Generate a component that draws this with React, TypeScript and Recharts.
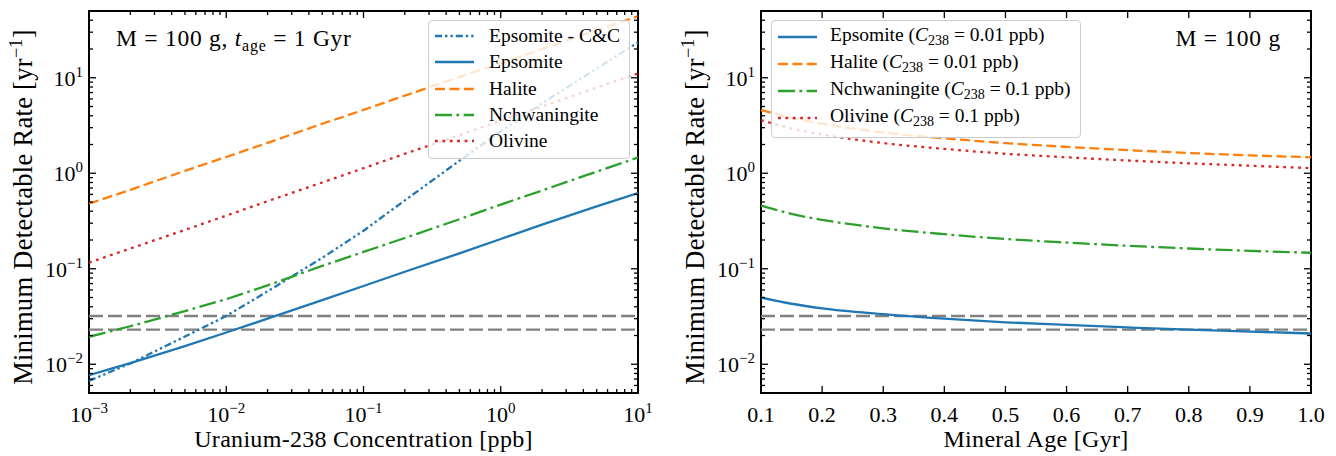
import React from "react";
import { LineChart, Line, XAxis, YAxis, ReferenceLine, ReferenceArea, Legend } from "recharts";

const FONT = '"Liberation Serif", "DejaVu Serif", serif';

// left panel: minimum detectable rate vs U-238 concentration (M = 100 g, t_age = 1 Gyr)
const concentration = [0.001, 0.002, 0.005, 0.01, 0.02, 0.05, 0.1, 0.2, 0.5, 1, 2, 5, 10];
const epsomiteCC = [0.0067, 0.0102, 0.0195, 0.032, 0.058, 0.13, 0.25, 0.52, 1.35, 2.75, 5.4, 12.5, 23.5];
const epsomiteL = [0.0077, 0.0103, 0.0155, 0.0215, 0.03, 0.047, 0.066, 0.093, 0.145, 0.205, 0.29, 0.45, 0.62];
const haliteL = [0.48, 0.67, 1.06, 1.48, 2.08, 3.3, 4.6, 6.5, 10.2, 14.2, 20, 31.5, 44];
const nchwaningiteL = [0.0194, 0.025, 0.036, 0.048, 0.067, 0.107, 0.15, 0.21, 0.33, 0.47, 0.66, 1.04, 1.46];
const olivineL = [0.116, 0.163, 0.255, 0.36, 0.51, 0.8, 1.13, 1.6, 2.5, 3.55, 5.0, 7.9, 11.1];

// right panel: minimum detectable rate vs mineral age (M = 100 g)
const age = [0.1, 0.15, 0.2, 0.3, 0.4, 0.5, 0.6, 0.7, 0.8, 0.9, 1.0];
const epsomiteR = [0.05, 0.043, 0.0385, 0.0335, 0.03, 0.0275, 0.0258, 0.0243, 0.023, 0.022, 0.021];
const haliteR = [4.6, 3.8, 3.3, 2.67, 2.32, 2.07, 1.89, 1.75, 1.63, 1.54, 1.47];
const nchwaningiteR = [0.46, 0.375, 0.325, 0.265, 0.23, 0.205, 0.188, 0.174, 0.163, 0.154, 0.147];
const olivineR = [3.6, 2.94, 2.55, 2.07, 1.8, 1.6, 1.47, 1.36, 1.27, 1.2, 1.13];

// horizontal grey dashed levels
const levels = [0.032, 0.023];

// ticks
const decadesX = [0.001, 0.01, 0.1, 1];
const decadesY = [0.001, 0.01, 0.1, 1, 10];
const minorMult = [1, 2, 3, 4, 5, 6, 7, 8, 9];
const xTicksLeft = [...decadesX.flatMap((d) => minorMult.map((m) => +(d * m).toPrecision(3))), 10];
const yTicks = decadesY.flatMap((d) => minorMult.map((m) => +(d * m).toPrecision(3))).filter((v) => v > 0.005 && v < 50);
const xTicksRight = [0.1, 0.2, 0.3, 0.4, 0.5, 0.6, 0.7, 0.8, 0.9, 1.0];

const leftData = concentration.map((x, i) => ({
  x,
  epsomiteCC: epsomiteCC[i],
  epsomite: epsomiteL[i],
  halite: haliteL[i],
  nchwaningite: nchwaningiteL[i],
  olivine: olivineL[i],
}));

const rightData = age.map((x, i) => ({
  x,
  epsomite: epsomiteR[i],
  halite: haliteR[i],
  nchwaningite: nchwaningiteR[i],
  olivine: olivineR[i],
}));

const BLUE = "#1f77b4";
const ORANGE = "#ff7f0e";
const GREEN = "#2ca02c";
const RED = "#d62728";
const LW = 2.3;

const leftSeries = [
  { key: "epsomiteCC", name: "Epsomite - C&C", color: BLUE, dash: "7 3 2.4 3 2.4 3" },
  { key: "epsomite", name: "Epsomite", color: BLUE, dash: undefined },
  { key: "halite", name: "Halite", color: ORANGE, dash: "10 4.4" },
  { key: "nchwaningite", name: "Nchwaningite", color: GREEN, dash: "17 4.4 2.8 4.4" },
  { key: "olivine", name: "Olivine", color: RED, dash: "2.8 4.6" },
];

const rightSeries = [
  { key: "epsomite", name: "Epsomite", conc: "0.01", color: BLUE, dash: undefined },
  { key: "halite", name: "Halite", conc: "0.01", color: ORANGE, dash: "10 4.4" },
  { key: "nchwaningite", name: "Nchwaningite", conc: "0.1", color: GREEN, dash: "17 4.4 2.8 4.4" },
  { key: "olivine", name: "Olivine", conc: "0.1", color: RED, dash: "2.8 4.6" },
];

const W = 668;
const H = 456;
const XAXIS_H = 30;
const YAXIS_W = 40;
const frameL = { left: 89, right: 638, top: 11, bottom: 393 };
const frameR = { left: 93, right: 643, top: 11, bottom: 393 };

const isDecade = (v: number) => Math.abs(Math.log10(v) - Math.round(Math.log10(v))) < 1e-6;

function pow10(v: number) {
  const e = Math.round(Math.log10(v));
  return (
    <>
      10
      <tspan dy={-9} fontSize={15}>
        {e < 0 ? "\u2212" + -e : String(e)}
      </tspan>
    </>
  );
}

function makeXTick(frame: any, logScale: boolean) {
  return (props: any) => {
    const { x, payload } = props;
    const v = payload.value;
    const major = logScale ? isDecade(v) : true;
    const len = major ? 7 : 4;
    return (
      <g>
        <line x1={x} x2={x} y1={frame.bottom} y2={frame.bottom - len} stroke="#000" strokeWidth={1.3} />
        <line x1={x} x2={x} y1={frame.top} y2={frame.top + len} stroke="#000" strokeWidth={1.3} />
        {major && (
          <text x={x} y={frame.bottom + 29} textAnchor="middle" fontFamily={FONT} fontSize={22} fill="#000">
            {logScale ? pow10(v) : v.toFixed(1)}
          </text>
        )}
      </g>
    );
  };
}

function makeYTick(frame: any) {
  return (props: any) => {
    const { y, payload } = props;
    const v = payload.value;
    const major = isDecade(v);
    const len = major ? 7 : 4;
    return (
      <g>
        <line x1={frame.left} x2={frame.left + len} y1={y} y2={y} stroke="#000" strokeWidth={1.3} />
        <line x1={frame.right} x2={frame.right - len} y1={y} y2={y} stroke="#000" strokeWidth={1.3} />
        {major && (
          <text x={frame.left - 6} y={y + 8} textAnchor="end" fontFamily={FONT} fontSize={22} fill="#000">
            {pow10(v)}
          </text>
        )}
      </g>
    );
  };
}

function Sample({ color, dash }: { color: string; dash?: string }) {
  return (
    <svg width={39} height={10} style={{ display: "block", flex: "none" }}>
      <line x1={0} x2={39} y1={5} y2={5} stroke={color} strokeWidth={LW} strokeDasharray={dash} />
    </svg>
  );
}

const legendBox: React.CSSProperties = {
  background: "rgba(255,255,255,0.8)",
  border: "1px solid #cccccc",
  borderRadius: 4,
  fontFamily: FONT,
  fontSize: 19.5,
  color: "#000",
  whiteSpace: "nowrap",
  boxSizing: "border-box",
};

function LeftLegend() {
  return (
    <div style={{ ...legendBox, padding: "2px 9px 4px 6px" }}>
      {leftSeries.map((s) => (
        <div key={s.key} style={{ display: "flex", alignItems: "center", height: 26.3 }}>
          <Sample color={s.color} dash={s.dash} />
          <span style={{ marginLeft: 15 }}>{s.name}</span>
        </div>
      ))}
    </div>
  );
}

function RightLegend() {
  return (
    <div style={{ ...legendBox, padding: "2px 9px 6px 6px" }}>
      {rightSeries.map((s) => (
        <div key={s.key} style={{ display: "flex", alignItems: "center", height: 27 }}>
          <Sample color={s.color} dash={s.dash} />
          <span style={{ marginLeft: 13 }}>
            {s.name} (<i>C</i>
            <span style={{ fontSize: "0.72em", verticalAlign: "-0.3em" }}>238</span> = {s.conc} ppb)
          </span>
        </div>
      ))}
    </div>
  );
}

function Panel({ side }: { side: "left" | "right" }) {
  const left = side === "left";
  const frame = left ? frameL : frameR;
  const series = left ? leftSeries : rightSeries;
  const xDomain = left ? [0.001, 10] : [0.1, 1.0];
  return (
    <LineChart
      width={W}
      height={H}
      data={left ? leftData : rightData}
      margin={{
        top: frame.top,
        left: frame.left - YAXIS_W,
        right: W - frame.right,
        bottom: H - frame.bottom - XAXIS_H,
      }}
    >
      <XAxis
        dataKey="x"
        type="number"
        scale={left ? "log" : "linear"}
        domain={xDomain}
        allowDataOverflow
        ticks={left ? xTicksLeft : xTicksRight}
        interval={0}
        height={XAXIS_H}
        axisLine={false}
        tickLine={false}
        tick={makeXTick(frame, left)}
      />
      <YAxis
        type="number"
        scale="log"
        domain={[0.005, 50]}
        allowDataOverflow
        ticks={yTicks}
        interval={0}
        width={YAXIS_W}
        axisLine={false}
        tickLine={false}
        tick={makeYTick(frame)}
      />
      {levels.map((lv) => (
        <ReferenceLine key={lv} y={lv} stroke="#808080" strokeWidth={LW} strokeDasharray="14 5" />
      ))}
      {series.map((s) => (
        <Line
          key={s.key}
          dataKey={s.key}
          name={s.name}
          type={left ? "linear" : "monotone"}
          stroke={s.color}
          strokeWidth={LW}
          strokeDasharray={s.dash}
          dot={false}
          activeDot={false}
          isAnimationActive={false}
        />
      ))}
      <ReferenceArea
        x1={xDomain[0]}
        x2={xDomain[1]}
        y1={0.005}
        y2={50}
        fill="none"
        fillOpacity={0}
        stroke="#000"
        strokeWidth={2}
        ifOverflow="visible"
      />
      <Legend
        layout="horizontal"
        verticalAlign="middle"
        align="center"
        content={() => (left ? <LeftLegend /> : <RightLegend />)}
        wrapperStyle={{
          left: left ? 428 : 103,
          top: 20,
          right: "auto",
          bottom: "auto",
          width: "auto",
          height: "auto",
        }}
      />
    </LineChart>
  );
}

export default function App() {
  return (
    <div style={{ position: "absolute", left: 0, top: 0, width: 1336, height: 456, background: "#fff" }}>
      <div style={{ position: "absolute", left: 0, top: 0 }}>
        <Panel side="left" />
      </div>
      <div style={{ position: "absolute", left: W, top: 0 }}>
        <Panel side="right" />
      </div>
      <svg
        width={1336}
        height={456}
        style={{ position: "absolute", left: 0, top: 0, pointerEvents: "none" }}
        fontFamily={FONT}
      >
        <text x={116} y={46} fontSize={23.5} letterSpacing={0.75}>
          M = 100 g, <tspan fontStyle="italic">t</tspan>
          <tspan dy={5} fontSize={16}>age</tspan>
          <tspan dy={-5}> = 1 Gyr</tspan>
        </text>
        <text x={1281} y={46} fontSize={23.5} letterSpacing={0.75} textAnchor="end">
          M = 100 g
        </text>
        <text x={363.5} y={447} fontSize={24} letterSpacing={0.3} textAnchor="middle">
          Uranium-238 Concentration [ppb]
        </text>
        <text x={1036} y={447} fontSize={24} letterSpacing={0.3} textAnchor="middle">
          Mineral Age [Gyr]
        </text>
        {[32, 704].map((cx) => (
          <text
            key={cx}
            x={cx}
            y={207}
            fontSize={26.5}
            letterSpacing={0.3}
            textAnchor="middle"
            transform={`rotate(-90 ${cx} 207)`}
          >
            Minimum Detectable Rate [yr
            <tspan dy={-10} fontSize={18}>
              {"\u22121"}
            </tspan>
            <tspan dy={10}>]</tspan>
          </text>
        ))}
      </svg>
    </div>
  );
}
